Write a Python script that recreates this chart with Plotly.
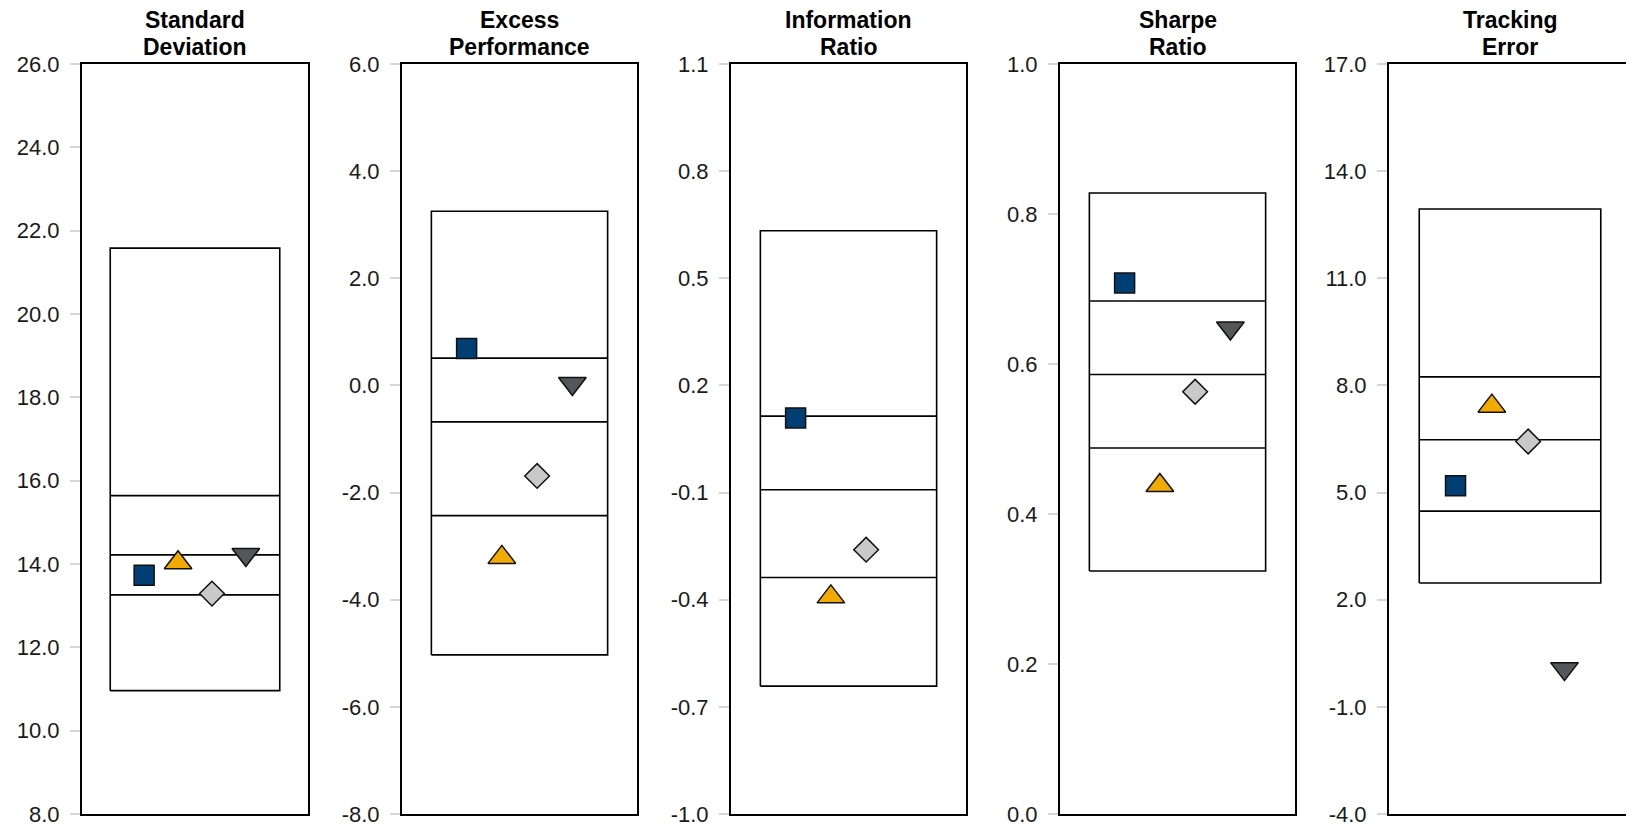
import plotly.graph_objects as go

# ---------------- data ----------------
titles = ["Standard<br>Deviation", "Excess<br>Performance", "Information<br>Ratio",
          "Sharpe<br>Ratio", "Tracking<br>Error"]

# box: [bottom, q1, median, q3, top] for each metric
box_std = [10.96, 13.26, 14.22, 15.64, 21.58]
box_exc = [-5.03, -2.43, -0.68, 0.51, 3.25]
box_ir = [-0.642, -0.338, -0.092, 0.114, 0.633]
box_sr = [0.324, 0.488, 0.586, 0.684, 0.828]
box_te = [2.47, 4.48, 6.48, 8.24, 12.94]

# series values per metric (std, excess, IR, sharpe, TE)
series_names = ["Fund", "Benchmark A", "Benchmark B", "Benchmark C"]
s_square = [13.73, 0.69, 0.109, 0.708, 5.19]
s_triangle = [14.03, -3.21, -0.392, 0.438, 7.42]
s_diamond = [13.29, -1.69, -0.26, 0.563, 6.43]
s_down = [14.23, 0.035, None, 0.648, 0.07]

# axis ranges / ticks
y_ranges = [[8.0, 26.0], [-8.0, 6.0], [-1.0, 1.1], [0.0, 1.0], [-4.0, 17.0]]
y_dticks = [2.0, 2.0, 0.3, 0.2, 3.0]

# ---------------- styling ----------------
OFF = 8  # default page body margin
W, H = 1634 - OFF, 827 - OFF
panel_px = [(82, 308), (402, 637), (731, 966), (1060, 1295), (1389, 1631)]
symbols = ["square", "triangle-up", "diamond", "triangle-down"]
colors = ["#003E74", "#F0AA00", "#C9C9C9", "#55565A"]
sizes = [20, 24, 19, 24]
FONT = "Liberation Sans, Arial, sans-serif"
PLOT_TOP = 64
TITLE_LINE_Y = [20, 47]  # page y of the centre of each title line

boxes = [box_std, box_exc, box_ir, box_sr, box_te]
series = [s_square, s_triangle, s_diamond, s_down]

fig = go.Figure()
BX0, BX1 = -1.0, 4.0
XR = [-1.833, 4.833]


def fmt(v):
    return f"{v:.1f}".replace("\u2212", "-")


for i in range(5):
    xa = "x" if i == 0 else f"x{i+1}"
    ya = "y" if i == 0 else f"y{i+1}"
    b = boxes[i]
    fig.add_trace(go.Scatter(
        x=[BX0, BX1, BX1, BX0, BX0], y=[b[0], b[0], b[4], b[4], b[0]],
        mode="lines", fill="toself", fillcolor="white",
        line=dict(color="black", width=1.6), xaxis=xa, yaxis=ya,
        hoverinfo="skip", showlegend=False))
    lx, ly = [], []
    for v in b[1:4]:
        lx += [BX0, BX1, None]
        ly += [v, v, None]
    fig.add_trace(go.Scatter(
        x=lx, y=ly, mode="lines", line=dict(color="black", width=1.6),
        xaxis=xa, yaxis=ya, hoverinfo="skip", showlegend=False))
    for k in range(4):
        val = series[k][i]
        if val is None:
            continue
        fig.add_trace(go.Scatter(
            x=[k], y=[val], mode="markers", name=series_names[k],
            marker=dict(symbol=symbols[k], size=sizes[k], color=colors[k],
                        line=dict(color="#111111", width=1.5)),
            xaxis=xa, yaxis=ya, showlegend=False))

    lo, hi = y_ranges[i]
    n = int(round((hi - lo) / y_dticks[i]))
    tvals = [round(lo + j * y_dticks[i], 4) for j in range(n + 1)]

    xkey = "xaxis" if i == 0 else f"xaxis{i+1}"
    ykey = "yaxis" if i == 0 else f"yaxis{i+1}"
    x0, x1 = panel_px[i]
    d0 = (x0 - OFF) / W
    d1 = min((x1 - OFF) / W, (W - 1) / W)
    fig.layout[xkey] = dict(
        domain=[d0, d1], range=XR, showgrid=False,
        zeroline=False, showticklabels=False, ticks="", showline=True,
        mirror=True, linecolor="black", linewidth=2, anchor=ya, fixedrange=True)
    fig.layout[ykey] = dict(
        range=y_ranges[i], tickvals=tvals, ticktext=[fmt(v) for v in tvals],
        showgrid=False, zeroline=False,
        showline=True, mirror=True, linecolor="black", linewidth=2,
        ticks="outside", ticklen=10, tickwidth=1.5, tickcolor="#D6D6D6",
        ticklabelstandoff=6, ticklabeloverflow="allow",
        tickfont=dict(family=FONT, size=22, color="#1a1a1a"),
        anchor=xa, fixedrange=True)
    for li, line_text in enumerate(titles[i].split("<br>")):
        fig.add_annotation(
            text="<b>" + line_text + "</b>", xref=f"{xa} domain",
            yref=f"{ya} domain", x=0.5, y=1, xanchor="center",
            yanchor="middle", yshift=PLOT_TOP - TITLE_LINE_Y[li], borderpad=0,
            showarrow=False, font=dict(family=FONT, size=23, color="black"))

fig.update_layout(
    width=W, height=H, margin=dict(l=0, r=0, t=PLOT_TOP - OFF, b=H - (816 - OFF)),
    paper_bgcolor="white", plot_bgcolor="white", showlegend=False)

fig.write_html("out.html")
